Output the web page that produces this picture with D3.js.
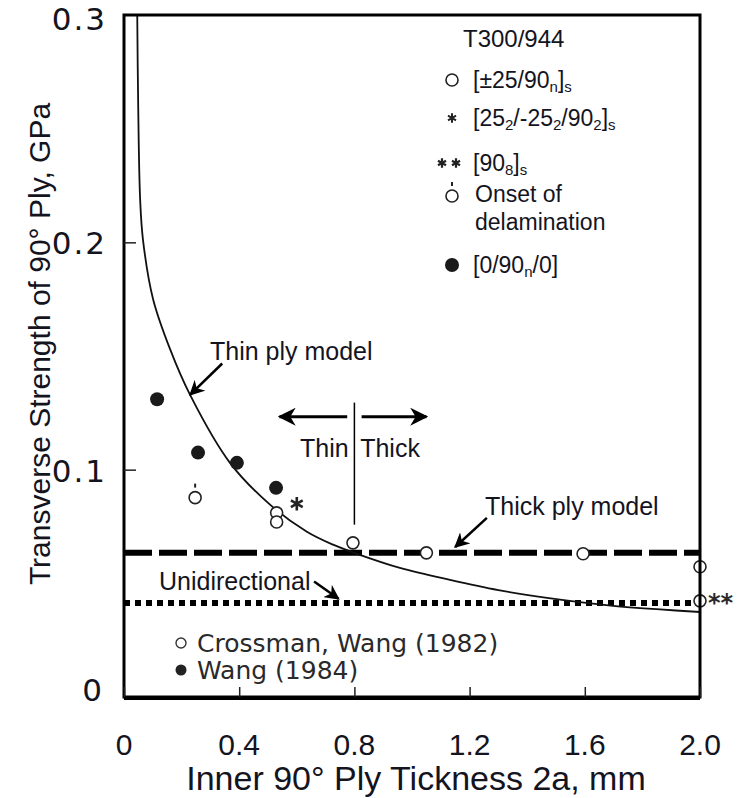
<!DOCTYPE html>
<html>
<head>
<meta charset="utf-8">
<script src="https://cdn.jsdelivr.net/npm/d3@7"></script>
<style>
  body { margin: 0; background: #fff; }
  text { font-family: Arial, "Liberation Sans", sans-serif; fill: #14141e; }
  .hand { font-family: "DejaVu Sans", sans-serif; fill: #2a2a2a; }
</style>
</head>
<body>
<div id="chart"></div>
<script>
// ---- data ----
const curveX = [0.046, 0.049, 0.056, 0.066, 0.101, 0.160, 0.229, 0.368, 0.507, 0.635, 0.726, 0.809, 0.958, 1.132, 1.30, 1.469, 1.698, 1.861, 2.0];
const curveY = [0.300, 0.263, 0.219, 0.201, 0.175, 0.153, 0.133, 0.103, 0.0846, 0.0727, 0.0670, 0.0630, 0.0568, 0.0515, 0.047, 0.0436, 0.0401, 0.0385, 0.0374];

const openX = [0.53, 0.53, 0.795, 1.05, 1.594, 2.0, 2.0];
const openY = [0.081, 0.077, 0.0678, 0.0634, 0.063, 0.0573, 0.0423];

const filledX = [0.115, 0.257, 0.392, 0.528];
const filledY = [0.131, 0.1075, 0.103, 0.092];

const onsetX = [0.247];
const onsetY = [0.0877];

const starX = [0.60];
const starY = [0.085];

const thickPly = 0.0634;
const unidirectional = 0.0414;

const xTicks = [0, 0.4, 0.8, 1.2, 1.6, 2.0];
const yTicks = [0, 0.1, 0.2, 0.3];

// ---- layout ----
const width = 737, height = 798;
const margin = { top: 15, right: 37, bottom: 98, left: 124 };

const svg = d3.select("#chart").append("svg")
  .attr("width", width)
  .attr("height", height);

const x = d3.scaleLinear().domain([0, 2.0]).range([margin.left, width - margin.right]);
const y = d3.scaleLinear().domain([0, 0.3]).range([height - margin.bottom - 3, margin.top]);

svg.append("clipPath").attr("id", "clip")
  .append("rect")
  .attr("x", x(0)).attr("y", y(0.3))
  .attr("width", x(2) - x(0)).attr("height", y(0) - y(0.3));

// ---- reference lines ----
svg.append("line")
  .attr("x1", x(0)).attr("x2", x(2))
  .attr("y1", y(thickPly)).attr("y2", y(thickPly))
  .attr("stroke", "#000").attr("stroke-width", 6)
  .attr("stroke-dasharray", "28,7");

svg.append("line")
  .attr("x1", x(0)).attr("x2", x(2))
  .attr("y1", y(unidirectional)).attr("y2", y(unidirectional))
  .attr("stroke", "#000").attr("stroke-width", 6)
  .attr("stroke-dasharray", "6,5");

// ---- thin ply model curve ----
const curvePts = curveX.map((v, i) => [v, curveY[i]]);
svg.append("path")
  .datum(curvePts)
  .attr("clip-path", "url(#clip)")
  .attr("fill", "none")
  .attr("stroke", "#111")
  .attr("stroke-width", 1.8)
  .attr("d", d3.line().x(d => x(d[0])).y(d => y(d[1])).curve(d3.curveCatmullRom.alpha(0.5)));

// ---- markers ----
const openPts = openX.map((v, i) => [v, openY[i]]);
svg.selectAll(".open").data(openPts).enter().append("circle")
  .attr("cx", d => x(d[0])).attr("cy", d => y(d[1])).attr("r", 6)
  .attr("fill", "#fff").attr("stroke", "#222").attr("stroke-width", 1.6);

const filledPts = filledX.map((v, i) => [v, filledY[i]]);
svg.selectAll(".filled").data(filledPts).enter().append("circle")
  .attr("cx", d => x(d[0])).attr("cy", d => y(d[1])).attr("r", 7)
  .attr("fill", "#1a1a1a");

const onsetPts = onsetX.map((v, i) => [v, onsetY[i]]);
onsetPts.forEach(d => {
  svg.append("circle")
    .attr("cx", x(d[0])).attr("cy", y(d[1])).attr("r", 6)
    .attr("fill", "#fff").attr("stroke", "#222").attr("stroke-width", 1.6);
  svg.append("line")
    .attr("x1", x(d[0])).attr("x2", x(d[0]))
    .attr("y1", y(d[1]) - 10).attr("y2", y(d[1]) - 14)
    .attr("stroke", "#222").attr("stroke-width", 2);
});

const starPts = starX.map((v, i) => [v, starY[i]]);
svg.selectAll(".star").data(starPts).enter().append("path")
  .attr("transform", d => `translate(${x(d[0])},${y(d[1])})`)
  .attr("d", d3.symbol(d3.symbolAsterisk, 130))
  .attr("stroke", "#222").attr("stroke-width", 2.6);

svg.append("text")
  .attr("x", x(2) + 8).attr("y", y(0.0423) + 10)
  .attr("font-size", 24).attr("font-weight", "bold")
  .attr("class", "hand")
  .text("**");

// ---- frame ----
svg.append("rect")
  .attr("x", x(0)).attr("y", y(0.3))
  .attr("width", x(2) - x(0)).attr("height", y(0) - y(0.3))
  .attr("fill", "none").attr("stroke", "#000").attr("stroke-width", 3);
svg.append("line")
  .attr("x1", x(0)).attr("x2", x(2))
  .attr("y1", y(0) + 1).attr("y2", y(0) + 1)
  .attr("stroke", "#000").attr("stroke-width", 4);

// ---- axes ----
const xAxis = d3.axisTop(x).tickValues(xTicks).tickSize(10).tickFormat("");
svg.append("g")
  .attr("transform", `translate(0,${y(0)})`)
  .call(xAxis)
  .call(g => g.select(".domain").remove())
  .call(g => g.selectAll(".tick line").attr("stroke", "#222").attr("stroke-width", 1.5));

const yAxis = d3.axisRight(y).tickValues(yTicks.filter(t => t > 0 && t < 0.3)).tickSize(12).tickFormat("");
svg.append("g")
  .attr("transform", `translate(${x(0)},0)`)
  .call(yAxis)
  .call(g => g.select(".domain").remove())
  .call(g => g.selectAll(".tick line").attr("stroke", "#222").attr("stroke-width", 1.5));

svg.selectAll(".xlab").data(xTicks).enter().append("text")
  .attr("x", d => x(d)).attr("y", y(0) + 58)
  .attr("text-anchor", "middle").attr("font-size", 30)
  .text(d => d === 0 ? "0" : d3.format(".1f")(d));

svg.selectAll(".ylab").data(yTicks).enter().append("text")
  .attr("x", d => d === 0 ? x(0) - 20 : x(0) - 17)
  .attr("y", d => d === 0 ? y(d) + 4 : (d === 0.3 ? y(d) + 15 : y(d) + 12))
  .attr("text-anchor", "end").attr("font-size", 31)
  .attr("class", "hand").style("fill", "#14141e")
  .attr("letter-spacing", 2)
  .text(d => d === 0 ? "0" : d3.format(".1f")(d));

svg.append("text")
  .attr("x", 416).attr("y", 790)
  .attr("text-anchor", "middle").attr("font-size", 34)
  .text("Inner 90° Ply Tickness 2a, mm");

svg.append("text")
  .attr("transform", `translate(50,344) rotate(-90)`)
  .attr("text-anchor", "middle").attr("font-size", 30)
  .text("Transverse Strength of 90° Ply, GPa");

// ---- annotations ----
svg.append("defs").append("marker")
  .attr("id", "arrow").attr("viewBox", "0 0 10 10")
  .attr("refX", 9).attr("refY", 5)
  .attr("markerWidth", 6).attr("markerHeight", 6)
  .attr("markerUnits", "strokeWidth")
  .attr("orient", "auto")
  .append("path").attr("d", "M0,0 L10,5 L0,10 L3,5 Z").attr("fill", "#000");

function arrow(x1, y1, x2, y2, w) {
  svg.append("line")
    .attr("x1", x(x1)).attr("y1", y(y1)).attr("x2", x(x2)).attr("y2", y(y2))
    .attr("stroke", "#000").attr("stroke-width", w)
    .attr("marker-end", "url(#arrow)");
}

// Thin | Thick divider
svg.append("line")
  .attr("x1", x(0.8)).attr("x2", x(0.8))
  .attr("y1", y(0.1295)).attr("y2", y(0.0758))
  .attr("stroke", "#000").attr("stroke-width", 1.5);
arrow(0.775, 0.1233, 0.54, 0.1233, 3);
arrow(0.825, 0.1233, 1.05, 0.1233, 3);
svg.append("text").attr("x", x(0.78)).attr("y", y(0.1057))
  .attr("text-anchor", "end").attr("font-size", 25).text("Thin");
svg.append("text").attr("x", x(0.82)).attr("y", y(0.1057))
  .attr("font-size", 25).text("Thick");

// model labels
svg.append("text").attr("x", 210).attr("y", 360).attr("font-size", 25).text("Thin ply model");
arrow(0.341, 0.1467, 0.23, 0.133, 2.5);

svg.append("text").attr("x", 485).attr("y", 515).attr("font-size", 25).text("Thick ply model");
arrow(1.26, 0.0788, 1.15, 0.066, 2.5);

svg.append("text").attr("x", 159).attr("y", 590).attr("font-size", 25).text("Unidirectional");
arrow(0.66, 0.0508, 0.745, 0.0432, 2.5);

// ---- legend (top right) ----
const lx = 452, tx = 473;
const fs = 23, sub = 15;
svg.append("text").attr("x", 463).attr("y", 47).attr("font-size", 24).text("T300/944");

svg.append("circle").attr("cx", lx).attr("cy", 80).attr("r", 6)
  .attr("fill", "#fff").attr("stroke", "#222").attr("stroke-width", 1.6);
const t1 = svg.append("text").attr("x", tx).attr("y", 88).attr("font-size", fs);
t1.append("tspan").text("[±25/90");
t1.append("tspan").attr("font-size", sub).attr("dy", 4).text("n");
t1.append("tspan").attr("dy", -4).text("]");
t1.append("tspan").attr("font-size", sub).attr("dy", 4).text("s");

svg.append("path").attr("transform", `translate(${lx},118)`)
  .attr("d", d3.symbol(d3.symbolAsterisk, 60))
  .attr("stroke", "#222").attr("stroke-width", 2);
const t2 = svg.append("text").attr("x", tx).attr("y", 126).attr("font-size", fs);
t2.append("tspan").text("[25");
t2.append("tspan").attr("font-size", sub).attr("dy", 4).text("2");
t2.append("tspan").attr("dy", -4).text("/-25");
t2.append("tspan").attr("font-size", sub).attr("dy", 4).text("2");
t2.append("tspan").attr("dy", -4).text("/90");
t2.append("tspan").attr("font-size", sub).attr("dy", 4).text("2");
t2.append("tspan").attr("dy", -4).text("]");
t2.append("tspan").attr("font-size", sub).attr("dy", 4).text("s");

[-7, 7].forEach(o => {
  svg.append("path").attr("transform", `translate(${lx - 3 + o},163)`)
    .attr("d", d3.symbol(d3.symbolAsterisk, 60))
    .attr("stroke", "#222").attr("stroke-width", 2.2);
});
const t3 = svg.append("text").attr("x", tx).attr("y", 171).attr("font-size", fs);
t3.append("tspan").text("[90");
t3.append("tspan").attr("font-size", sub).attr("dy", 4).text("8");
t3.append("tspan").attr("dy", -4).text("]");
t3.append("tspan").attr("font-size", sub).attr("dy", 4).text("s");

svg.append("circle").attr("cx", lx).attr("cy", 196).attr("r", 6)
  .attr("fill", "#fff").attr("stroke", "#222").attr("stroke-width", 1.6);
svg.append("line").attr("x1", lx).attr("x2", lx).attr("y1", 186).attr("y2", 182)
  .attr("stroke", "#222").attr("stroke-width", 2);
svg.append("text").attr("x", tx + 2).attr("y", 202).attr("font-size", fs).text("Onset of");
svg.append("text").attr("x", tx + 2).attr("y", 230).attr("font-size", fs).text("delamination");

svg.append("circle").attr("cx", lx).attr("cy", 265).attr("r", 7).attr("fill", "#1a1a1a");
const t5 = svg.append("text").attr("x", tx).attr("y", 273).attr("font-size", fs);
t5.append("tspan").text("[0/90");
t5.append("tspan").attr("font-size", sub).attr("dy", 4).text("n");
t5.append("tspan").attr("dy", -4).text("/0]");

// ---- legend (bottom left) ----
svg.append("circle").attr("cx", 181).attr("cy", 643).attr("r", 5)
  .attr("fill", "#fff").attr("stroke", "#333").attr("stroke-width", 1.4);
svg.append("text").attr("class", "hand").attr("x", 197).attr("y", 652)
  .attr("font-size", 25).text("Crossman, Wang (1982)");
svg.append("circle").attr("cx", 181).attr("cy", 670).attr("r", 5.5).attr("fill", "#222");
svg.append("text").attr("class", "hand").attr("x", 197).attr("y", 679)
  .attr("font-size", 25).text("Wang (1984)");
</script>
</body>
</html>
